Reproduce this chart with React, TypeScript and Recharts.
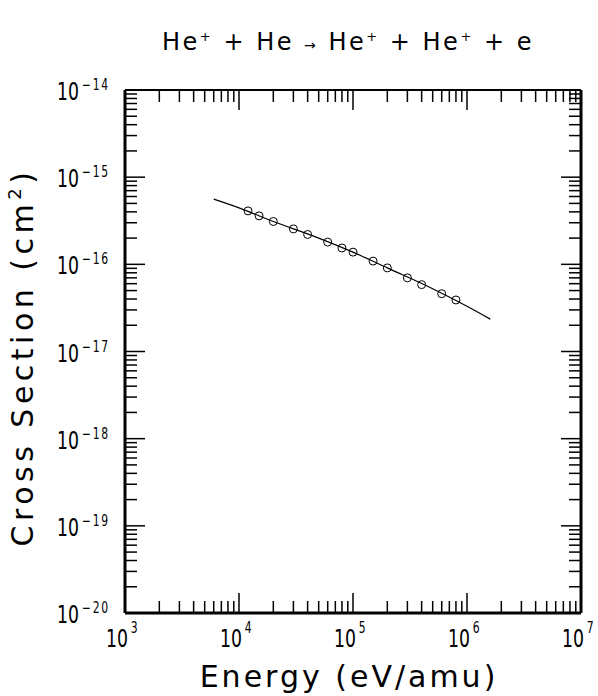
import React from "react";
import { ComposedChart, XAxis, YAxis, Line, Scatter } from "recharts";

// measured points: energy (eV/amu) vs cross section (cm^2)
const energies = [1.2e4, 1.5e4, 2e4, 3e4, 4e4, 6e4, 8e4, 1e5, 1.5e5, 2e5, 3e5, 4e5, 6e5, 8e5];
const sigmas = [
  4.1e-16, 3.6e-16, 3.1e-16, 2.55e-16, 2.2e-16, 1.8e-16, 1.54e-16, 1.38e-16, 1.09e-16, 9.1e-17,
  7.0e-17, 5.85e-17, 4.6e-17, 3.9e-17,
];

// fitted curve
const fitEnergies = [6e3, 1e4, 2e4, 5e4, 1e5, 2e5, 5e5, 1e6, 1.6e6];
const fitSigmas = [5.6e-16, 4.45e-16, 3.1e-16, 2.0e-16, 1.38e-16, 9.1e-17, 5.25e-17, 3.3e-17, 2.35e-17];

const xDecades = [3, 4, 5, 6, 7];
const yDecades = [-20, -19, -18, -17, -16, -15, -14];

const points = energies.map((x, i) => ({ x, y: sigmas[i] }));
const fit = fitEnergies.map((x, i) => ({ x, y: fitSigmas[i] }));

const withMinors = (decades: number[]) => {
  const out: number[] = [];
  decades.forEach((d, i) => {
    out.push(Math.pow(10, d));
    if (i < decades.length - 1) for (let m = 2; m <= 9; m++) out.push(m * Math.pow(10, d));
  });
  return out;
};
const xTicks = withMinors(xDecades);
const yTicks = withMinors(yDecades);

const isMajor = (v: number) => Math.abs(Math.log10(v) - Math.round(Math.log10(v))) < 1e-6;
const FONT = "DejaVu Sans";

// "10" plus a raised exponent, squeezed horizontally like the plotter glyphs
const Pow = ({ x, y, exp, expDy }: { x: number; y: number; exp: string; expDy: number }) => (
  <text transform={`translate(${x} ${y}) scale(0.72 1)`} fontFamily={FONT} fontSize={24} fill="#000">
    <tspan>10</tspan>
    <tspan dx={4} dy={expDy} fontSize={15} letterSpacing={2.5}>
      {exp}
    </tspan>
  </text>
);

const XTick = (props: any) => {
  const { x, y, payload, side } = props;
  const v = payload.value;
  const major = isMajor(v);
  const len = major ? 20 : 12;
  const dir = side === "top" ? 1 : -1;
  return (
    <g>
      <line x1={x} x2={x} y1={y} y2={y + dir * len} stroke="#000" strokeWidth={1.5} />
      {major && side !== "top" && (
        <Pow x={x - 19} y={y + 34} exp={String(Math.round(Math.log10(v)))} expDy={-14} />
      )}
    </g>
  );
};

const YTick = (props: any) => {
  const { x, y, payload, side } = props;
  const v = payload.value;
  const major = isMajor(v);
  const len = major ? 20 : 12;
  const dir = side === "right" ? -1 : 1;
  const exp = Math.round(Math.log10(v));
  return (
    <g>
      <line x1={x} x2={x + dir * len} y1={y} y2={y} stroke="#000" strokeWidth={1.5} />
      {major && side !== "right" && (
        <Pow x={x - 68} y={y + 10} exp={"\u2212" + Math.abs(exp)} expDy={-10} />
      )}
    </g>
  );
};

const Circle = (props: any) => {
  const { cx, cy } = props;
  return <circle cx={cx} cy={cy} r={4} fill="none" stroke="#000" strokeWidth={1} />;
};

export default function App() {
  const sup = (s: string) => (
    <>
      <tspan dy={-9} fontSize={13}>
        {s}
      </tspan>
      <tspan dy={9}> </tspan>
    </>
  );
  return (
    <div style={{ position: "absolute", left: 0, top: 0, width: 598, height: 696, background: "#fff" }}>
      <ComposedChart width={598} height={696} margin={{ top: 89, right: 16, bottom: 82, left: 124 }}>
        <XAxis
          dataKey="x"
          type="number"
          scale="log"
          domain={[1e3, 1e7]}
          allowDataOverflow
          ticks={xTicks}
          interval={0}
          height={1}
          tickSize={0}
          tickMargin={0}
          axisLine={{ stroke: "#000", strokeWidth: 3 }}
          tick={<XTick side="bottom" />}
        />
        <XAxis
          xAxisId="top"
          orientation="top"
          dataKey="x"
          type="number"
          scale="log"
          domain={[1e3, 1e7]}
          allowDataOverflow
          ticks={xTicks}
          interval={0}
          height={1}
          tickSize={0}
          tickMargin={0}
          axisLine={{ stroke: "#000", strokeWidth: 2 }}
          tick={<XTick side="top" />}
        />
        <YAxis
          dataKey="y"
          type="number"
          scale="log"
          domain={[1e-20, 1e-14]}
          allowDataOverflow
          ticks={yTicks}
          interval={0}
          width={1}
          tickSize={0}
          tickMargin={0}
          axisLine={{ stroke: "#000", strokeWidth: 3 }}
          tick={<YTick side="left" />}
        />
        <YAxis
          yAxisId="right"
          orientation="right"
          dataKey="y"
          type="number"
          scale="log"
          domain={[1e-20, 1e-14]}
          allowDataOverflow
          ticks={yTicks}
          interval={0}
          width={1}
          tickSize={0}
          tickMargin={0}
          axisLine={{ stroke: "#000", strokeWidth: 3 }}
          tick={<YTick side="right" />}
        />
        <Line
          data={fit}
          dataKey="y"
          type="monotone"
          stroke="#000"
          strokeWidth={1.2}
          dot={false}
          isAnimationActive={false}
        />
        <Scatter data={points} dataKey="y" shape={<Circle />} isAnimationActive={false} />
        <text x={348} y={50} textAnchor="middle" fontFamily={FONT} fontSize={24} fill="#000" letterSpacing={2.5}>
          He{sup("+")}
          <tspan> + He </tspan>
          <tspan fontSize={14}>{"\u2192"}</tspan>
          <tspan> He</tspan>
          {sup("+")}
          <tspan>+ He</tspan>
          {sup("+")}
          <tspan>+ e</tspan>
        </text>
        <text x={349} y={687} textAnchor="middle" fontFamily={FONT} fontSize={30} fill="#000" letterSpacing={3}>
          Energy (eV/amu)
        </text>
        <text
          x={0}
          y={0}
          transform="translate(33 357) rotate(-90)"
          textAnchor="middle"
          fontFamily={FONT}
          fontSize={30}
          fill="#000"
          letterSpacing={4.5}
        >
          Cross Section (cm
          <tspan dy={-12} fontSize={18}>
            2
          </tspan>
          <tspan dy={12}>)</tspan>
        </text>
      </ComposedChart>
    </div>
  );
}
